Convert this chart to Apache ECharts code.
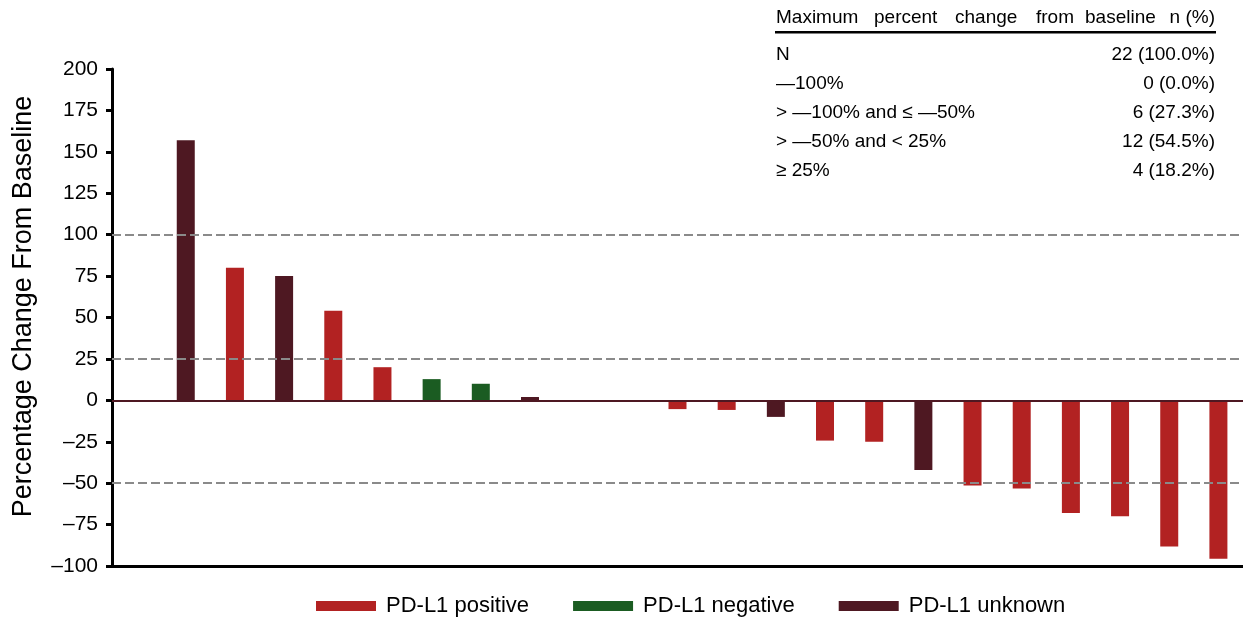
<!DOCTYPE html>
<html>
<head>
<meta charset="utf-8">
<script src="https://cdn.jsdelivr.net/npm/echarts@6/dist/echarts.min.js"></script>
<style>
  html, body { margin: 0; padding: 0; background: #fff; }
  #main { width: 1243px; height: 622px; }
</style>
</head>
<body>
<div id="main"></div>
<script>
    // first slot is an empty spacer before patient 1
    var patients = ['', 'P1', 'P2', 'P3', 'P4', 'P5', 'P6', 'P7', 'P8', 'P9', 'P10', 'P11',
        'P12', 'P13', 'P14', 'P15', 'P16', 'P17', 'P18', 'P19', 'P20', 'P21', 'P22'];
    var pctChange = [null, 157, 80, 75, 54, 20, 12.8, 10, 2, 0, 0, -5.3, -5.8,
        -10, -24.3, -25, -42, -51.4, -53.2, -68, -70, -88.2, -95.6];
    var pdl1Status = ['', 'unknown', 'positive', 'unknown', 'positive', 'positive', 'negative',
        'negative', 'unknown', 'positive', 'positive', 'positive', 'positive', 'unknown',
        'positive', 'positive', 'unknown', 'positive', 'positive', 'positive', 'positive',
        'positive', 'positive'];
    var yTicks = [200, 175, 150, 125, 100, 75, 50, 25, 0, -25, -50, -75, -100];
    var refLines = [100, 25, -50];

    var tableHeadWords = ['Maximum', 'percent', 'change', 'from', 'baseline', 'n (%)'];
    var tableRows = [
        ['N', '22 (100.0%)'],
        ['\u2014100%', '0 (0.0%)'],
        ['> \u2014100% and \u2264 \u201450%', '6 (27.3%)'],
        ['> \u201450% and < 25%', '12 (54.5%)'],
        ['\u2265 25%', '4 (18.2%)']
    ];

    var groups = [
        {key: 'positive', name: 'PD-L1 positive', color: '#b22222'},
        {key: 'negative', name: 'PD-L1 negative', color: '#1b5c22'},
        {key: 'unknown', name: 'PD-L1 unknown', color: '#4e1822'}
    ];

    var font = 'Liberation Sans, Arial, sans-serif';

    var series = groups.map(function (g, gi) {
        var s = {
            name: g.name,
            type: 'bar',
            barWidth: 18,
            barGap: '-100%',
            itemStyle: {color: g.color},
            data: pctChange.map(function (v, i) {
                return pdl1Status[i] === g.key ? v : '-';
            })
        };
        if (gi === 0) {
            s.markLine = {
                silent: true,
                symbol: 'none',
                label: {show: false},
                data: refLines.map(function (r) {
                    return {yAxis: r, lineStyle: {color: '#8a8a8a', width: 2, type: [9, 4]}};
                }).concat([{yAxis: 0, lineStyle: {color: '#4e1822', width: 2, type: 'solid'}}])
            };
        }
        return s;
    });

    // header words are spread out like in the source table
    var headX = [776, 874, 955, 1036, 1085];
    var graphics = [{
        type: 'text', right: 28, top: 8,
        style: {text: tableHeadWords[5], font: '19px ' + font, fill: '#000'}
    }, {
        type: 'rect', shape: {x: 775, y: 31, width: 441, height: 2.5},
        style: {fill: '#000'}
    }];
    headX.forEach(function (x, i) {
        graphics.push({
            type: 'text', left: x, top: 8,
            style: {text: tableHeadWords[i], font: '19px ' + font, fill: '#000'}
        });
    });
    tableRows.forEach(function (row, i) {
        graphics.push({
            type: 'text', left: 776, top: 45 + i * 29,
            style: {text: row[0], font: '19px ' + font, fill: '#000'}
        });
        graphics.push({
            type: 'text', right: 28, top: 45 + i * 29,
            style: {text: row[1], font: '19px ' + font, fill: '#000'}
        });
    });

    var myChart = echarts.init(document.getElementById('main'));
    var option = {
        animation: false,
        textStyle: {fontFamily: font},
        grid: {left: 112, right: 0, top: 69, bottom: 56},
        legend: {
            bottom: 0,
            left: 311,
            itemWidth: 60,
            itemHeight: 10,
            itemGap: 44,
            icon: 'rect',
            textStyle: {fontSize: 22, color: '#000', fontFamily: font, padding: [0, 0, 0, 5]},
            data: groups.map(function (g) { return g.name; })
        },
        xAxis: {
            type: 'category',
            data: patients,
            axisLine: {onZero: false, lineStyle: {color: '#000', width: 3}},
            axisTick: {show: false},
            axisLabel: {show: false},
            splitLine: {show: false}
        },
        yAxis: {
            type: 'value',
            min: yTicks[yTicks.length - 1],
            max: yTicks[0],
            interval: 25,
            name: 'Percentage Change From Baseline',
            nameLocation: 'middle',
            nameGap: 75,
            nameTextStyle: {fontSize: 27, color: '#000', fontFamily: font, padding: [0, 0, 0, 22]},
            axisLine: {show: true, lineStyle: {color: '#000', width: 3}},
            axisTick: {show: true, length: 6, lineStyle: {color: '#000', width: 3}},
            axisLabel: {
                fontSize: 21, color: '#000', margin: 14, fontFamily: font,
                formatter: function (v) { return String(v).replace('-', '\u2013'); }
            },
            splitLine: {show: false}
        },
        graphic: graphics,
        series: series
    };
    myChart.setOption(option);
</script>
</body>
</html>
